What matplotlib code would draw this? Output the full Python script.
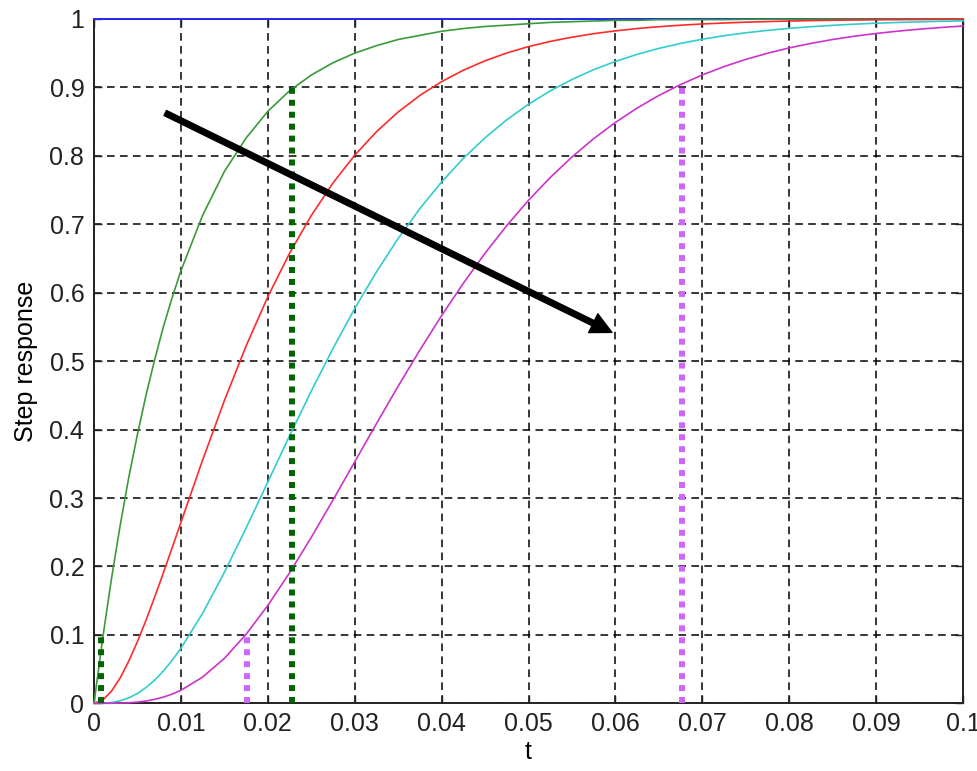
import matplotlib
matplotlib.use('Agg')
import matplotlib.pyplot as plt

# time samples (s), denser near the start where the curves bend most
t = [0.0, 0.001, 0.002, 0.003, 0.004, 0.005, 0.006, 0.007, 0.008, 0.009, 0.010,
     0.0125, 0.015, 0.0175, 0.020, 0.0225, 0.025, 0.0275, 0.030, 0.0325, 0.035,
     0.0375, 0.040, 0.0425, 0.045, 0.0475, 0.050, 0.0525, 0.055, 0.0575, 0.060,
     0.0625, 0.065, 0.0675, 0.070, 0.0725, 0.075, 0.0775, 0.080, 0.0825, 0.085,
     0.0875, 0.090, 0.0925, 0.095, 0.0975, 0.100]

step_t = [0.0, 0.1]
step_y = [1.0, 1.0]

green = [0.0, 0.095, 0.181, 0.259, 0.330, 0.393, 0.451, 0.503, 0.551, 0.593, 0.632,
         0.713, 0.777, 0.826, 0.865, 0.895, 0.918, 0.936, 0.950, 0.961, 0.970,
         0.976, 0.982, 0.986, 0.989, 0.991, 0.993, 0.995, 0.996, 0.997, 0.998,
         0.998, 0.999, 0.999, 0.999, 0.999, 0.9995, 0.9996, 0.9997, 0.9997, 0.9998,
         0.9998, 0.9999, 0.9999, 0.9999, 0.9999, 1.0]

red = [0.0, 0.0047, 0.0175, 0.0369, 0.0616, 0.0902, 0.1219, 0.1558, 0.1912, 0.2275, 0.2642,
       0.3554, 0.4422, 0.5221, 0.5940, 0.6575, 0.7127, 0.7603, 0.8009, 0.8352, 0.8641,
       0.8883, 0.9084, 0.9251, 0.9389, 0.9503, 0.9596, 0.9672, 0.9734, 0.9785, 0.9826,
       0.9860, 0.9887, 0.9909, 0.9927, 0.9941, 0.9953, 0.9962, 0.9970, 0.9976, 0.9981,
       0.9985, 0.9988, 0.9990, 0.9992, 0.9994, 0.9995]

cyan = [0.0, 0.0002, 0.0011, 0.0036, 0.0079, 0.0144, 0.0231, 0.0341, 0.0474, 0.0629, 0.0803,
        0.1315, 0.1912, 0.2560, 0.3233, 0.3907, 0.4562, 0.5185, 0.5768, 0.6304, 0.6792,
        0.7229, 0.7619, 0.7963, 0.8264, 0.8527, 0.8754, 0.8949, 0.9116, 0.9259, 0.9380,
        0.9483, 0.9570, 0.9643, 0.9704, 0.9755, 0.9798, 0.9833, 0.9863, 0.9887, 0.9907,
        0.9924, 0.9938, 0.9949, 0.9958, 0.9966, 0.9972]

magenta = [0.0, 0.0, 0.0001, 0.0003, 0.0008, 0.0018, 0.0034, 0.0058, 0.0091, 0.0135, 0.0190,
           0.0383, 0.0656, 0.1008, 0.1429, 0.1906, 0.2424, 0.2970, 0.3528, 0.4086, 0.4634,
           0.5162, 0.5665, 0.6138, 0.6577, 0.6981, 0.7350, 0.7683, 0.7983, 0.8251, 0.8488,
           0.8698, 0.8882, 0.9042, 0.9182, 0.9304, 0.9409, 0.9499, 0.9577, 0.9643, 0.9700,
           0.9748, 0.9788, 0.9822, 0.9851, 0.9876, 0.9897]

# 10% / 90% rise time markers
green_marks_t = [0.0008, 0.0228]
green_marks_y = [0.1, 0.9]
magenta_marks_t = [0.0176, 0.0677]
magenta_marks_y = [0.1, 0.9]

xticks = [0, 0.01, 0.02, 0.03, 0.04, 0.05, 0.06, 0.07, 0.08, 0.09, 0.1]
xtick_labels = ['0', '0.01', '0.02', '0.03', '0.04', '0.05', '0.06', '0.07', '0.08', '0.09', '0.1']
yticks = [0, 0.1, 0.2, 0.3, 0.4, 0.5, 0.6, 0.7, 0.8, 0.9, 1]
ytick_labels = ['0', '0.1', '0.2', '0.3', '0.4', '0.5', '0.6', '0.7', '0.8', '0.9', '1']

plt.rcParams['font.family'] = ['Liberation Sans', 'DejaVu Sans']

fig = plt.figure(figsize=(9.77, 7.71), dpi=100)
ax = fig.add_axes([0.0962, 0.0878, 0.8895, 0.8876])

ax.plot(step_t, step_y, color='#2a2aff', lw=1.3, clip_on=False, zorder=3)
ax.plot(t, green, color='#3a9a3a', lw=1.2, clip_on=False, zorder=3)
ax.plot(t, red, color='#ff2a2a', lw=1.2, clip_on=False, zorder=3)
ax.plot(t, cyan, color='#33cccc', lw=1.2, clip_on=False, zorder=3)
ax.plot(t, magenta, color='#cc33cc', lw=1.2, clip_on=False, zorder=3)

ax.vlines(green_marks_t, 0, green_marks_y, colors='#006400', lw=4.3,
          linestyles=[(0, (1, 1))], zorder=4)
ax.vlines(magenta_marks_t, 0, magenta_marks_y, colors='#cc66ff', lw=4.3,
          linestyles=[(0, (1, 1))], zorder=4)

# thick black arrow showing increasing order
ax.annotate('', xy=(0.0596, 0.542), xytext=(0.0082, 0.8626),
            arrowprops=dict(facecolor='black', edgecolor='black', width=4.0,
                            headwidth=15, headlength=15, shrink=0), zorder=5)

ax.set_xlim(0, 0.1)
ax.set_ylim(0, 1)
ax.set_xticks(xticks)
ax.set_xticklabels(xtick_labels)
ax.set_yticks(yticks)
ax.set_yticklabels(ytick_labels)
ax.tick_params(direction='in', top=True, right=True, length=6, width=1,
               labelsize=18, colors='#222222')
ax.tick_params(axis='x', pad=6)
ax.tick_params(axis='y', pad=7)
ax.grid(True, color='black', lw=1.1, linestyle=(0, (5, 3.5)))
ax.set_axisbelow(True)
for sp in ax.spines.values():
    sp.set_linewidth(1.4)
    sp.set_color('#222222')

ax.set_xlabel('t', fontsize=18, labelpad=3)
ax.set_ylabel('Step response', fontsize=18, labelpad=8)

fig.savefig('out.png', dpi=100)
plt.close(fig)
